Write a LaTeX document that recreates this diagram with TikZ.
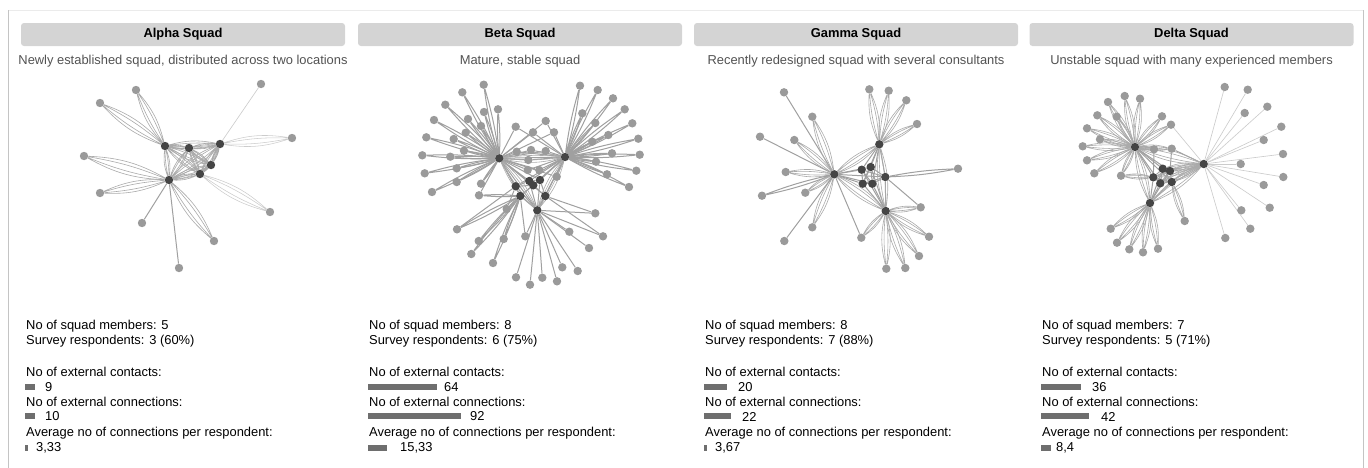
\documentclass[tikz,border=0pt]{standalone}
\usepackage{fontspec}
\setmainfont{Liberation Sans}
\definecolor{nodegray}{HTML}{9A9A9A}
\definecolor{memgray}{HTML}{454545}
\definecolor{edgegray}{HTML}{A0A0A0}
\definecolor{faintgray}{HTML}{CCCCCC}
\definecolor{lensgray}{HTML}{AAAAAA}
\definecolor{boxgray}{HTML}{D4D4D4}
\definecolor{bargray}{HTML}{6E6E6E}
\definecolor{framegray}{HTML}{C4C4C4}
\pgfdeclarelayer{bg}
\pgfsetlayers{bg,main}
\tikzset{
  ext/.style={circle,fill=nodegray,inner sep=0pt,minimum size=8.4pt},
  mem/.style={circle,fill=memgray,inner sep=0pt,minimum size=8.4pt},
  edge/.style={draw=edgegray,line width=1pt},
  faint/.style={draw=faintgray,line width=0.65pt},
  lensedge/.style={draw=lensgray,line width=0.6pt},
  flensedge/.style={draw=faintgray,line width=0.55pt},
  ttlbox/.style={fill=boxgray,rounded corners=3pt,draw=none},
  ttl/.style={font=\fontsize{12.9}{15}\selectfont\bfseries},
  sub/.style={font=\fontsize{12.9}{15}\selectfont,text=black!68},
  stat/.style={font=\fontsize{12.9}{15}\selectfont,anchor=west,inner sep=0pt},
  bar/.style={fill=bargray,draw=none}
}
% connectors between named nodes
\newcommand\lineab[2]{\draw[edge] (#1) -- (#2);}
\newcommand\faintab[2]{\draw[faint] (#1) -- (#2);}
\newcommand\dblab[2]{\draw[edge] (#1) to[bend left=4] (#2) (#1) to[bend right=4] (#2);}
\newcommand\lensab[2]{\draw[lensedge] (#1) to[bend left=6] (#2) (#1) to[bend left=13] (#2) (#1) to[bend right=6] (#2) (#1) to[bend right=13] (#2);}
\newcommand\flensab[2]{\draw[flensedge] (#1) to[bend left=6] (#2) (#1) to[bend left=13] (#2) (#1) to[bend right=6] (#2) (#1) to[bend right=13] (#2);}
\begin{document}
\begin{tikzpicture}[x=1pt,y=-1pt]
\useasboundingbox (0,0) rectangle (1368,467);
% panel frame
\draw[draw=black!8,line width=0.8pt] (8,10) -- (1363,10);
\draw[draw=framegray,line width=1pt] (8,10) -- (8,470);
\draw[draw=framegray,line width=1pt] (1363,10) -- (1363,470);

% headers
\foreach \cx/\name/\desc [count=\i] in {
  183/Alpha Squad/{Newly established squad, distributed across two locations},
  520/Beta Squad/{Mature, stable squad},
  856/Gamma Squad/{Recently redesigned squad with several consultants},
  1191.5/Delta Squad/{Unstable squad with many experienced members}} {
  \node[ttlbox,minimum width=324pt,minimum height=23pt,inner sep=0pt] (hdr\i) at (\cx,34.5) {};
  \node[ttl] (ttl\i) at (hdr\i) {\name};
  \node[sub] (sub\i) at (\cx,61) {\desc};
}

% statistics
\foreach \sx/\m/\r/\c/\cw/\cv/\k/\kw/\kv/\a/\aw/\av [count=\i] in {
  26/5/{3 (60\%)}/9/10/45/10/10/45/{3,33}/2.5/36,
  369/8/{6 (75\%)}/64/69/444/92/93/470/{15,33}/19/400,
  705/8/{7 (88\%)}/20/23/738/22/27/742/{3,67}/3/715,
  1042/7/{5 (71\%)}/36/40/1092/42/48/1101/{8,4}/10/1056} {
  \node[stat] (mem\i) at (\sx,326) {No of squad members: \m};
  \node[stat] (res\i) at (\sx,341) {Survey respondents: \r};
  \node[stat] (con\i) at (\sx,372) {No of external contacts:};
  \fill[bar] (\sx-1,383.5) rectangle ++(\cw,6);
  \node[stat] (conv\i) at (\cv,387) {\c};
  \node[stat] (cnx\i) at (\sx,401.5) {No of external connections:};
  \fill[bar] (\sx-1,413) rectangle ++(\kw,6);
  \node[stat] (cnxv\i) at (\kv,416.5) {\k};
  \node[stat] (avg\i) at (\sx,433) {Average no of connections per respondent:};
  \fill[bar] (\sx-1,444.5) rectangle ++(\aw,6);
  \node[stat] (avgv\i) at (\av,448) {\a};
}

% ================= nodes =================
% Alpha
\foreach \x/\y [count=\i] in {165/146,189/148,220/144,211/165,200/174,169/180}
  {\node[mem] (am\i) at (\x,\y) {};}
\foreach \x/\y [count=\i] in {261/84,136/90,100/103,292/138,84/156,100/193,270/212,142/223,214/241,179/268}
  {\node[ext] (ae\i) at (\x,\y) {};}
% Beta
\foreach \x/\y [count=\i] in {499.3/158.3,565/157,515.7/186.3,529.3/181,540/180,533.3/185.3,520.3/196,545.3/196,537.3/210.3}
  {\node[mem] (bm\i) at (\x,\y) {};}
\foreach \x/\y [count=\i] in {483.7/84.7,462.3/92.3,445.3/104.7,484/112,498/109.3,434/120,468/119,481/126,426.3/137.3,465.7/132.7,453.7/139,464/150.7,422.3/155.3,450.3/156.7,456.7/168.3,424.7/173.3,456.7/182,432/192,481/183.7}
  {\node[ext] (bl\i) at (\x,\y) {};}
\foreach \x/\y [count=\i] in {515.7/126.7,516.7/151.7,531/150,545.7/151,528.3/160,527.7/170,539.3/170,533/132.3,554/132.3,545.7/121,556.7/176.7}
  {\node[ext] (bc\i) at (\x,\y) {};}
\foreach \x/\y [count=\i] in {580/85.7,597.7/90,613/98.3,624.7/109.3,582.3/113.3,595.3/123,632.3/123.3,608.3/135,592.3/141.7,638.3/138.7,612/153.3,639.7/154.7,596/161.7,607/174.3,636.3/170.7,629/187}
  {\node[ext] (br\i) at (\x,\y) {};}
\foreach \x/\y [count=\i] in {479/195.3,506.7/209,457/229.3,478.7/241,471.3/254,503.7/239,493/263}
  {\node[ext] (bd\i) at (\x,\y) {};}
\foreach \x/\y [count=\i] in {525.3/236.3,516/277.3,530/284.7,542.3/277.7,557/281.3,562.3/267.3,577.7/271,589/248,569.3/231.7,603/236.3,595.3/213.3}
  {\node[ext] (bb\i) at (\x,\y) {};}
% Gamma
\foreach \x/\y [count=\i] in {834.3/174.3,879.3/144.3,861.7/169.7,870.7/167,885.3/177,862.7/183.7,872.3/183.7,885.7/211}
  {\node[mem] (gm\i) at (\x,\y) {};}
\foreach \x/\y [count=\i] in {784/92.3,812.3/116.7,760/136.7,794.3/140,785.7/172,762/195.7,805.3/192.7,812.3/227.3,784.3/241,861.3/237.7,869.3/89.3,888.7/90.7,906.3/100.3,917/124,958/168.7,920.7/207.3,929/236.7,919/256,886.3/268.7,905.3/268}
  {\node[ext] (ge\i) at (\x,\y) {};}
% Delta
\foreach \x/\y [count=\i] in {1135/147,1203.7/164,1162.7/168.7,1170/171,1153.3/177.3,1160.3/183.3,1171.7/182,1150/203}
  {\node[mem] (dm\i) at (\x,\y) {};}
\foreach \x/\y [count=\i] in {1124.7/96,1140/98.7,1108/102,1097.3/115.3,1116.7/116.7,1162/116.3,1171/124.7,1087/128.3,1100/139.3,1082.7/146.3,1087/160.3,1094.3/173.3,1121/175.7}
  {\node[ext] (dl\i) at (\x,\y) {};}
\node[ext] (dc1) at (1154,149.3) {};
\node[ext] (dc2) at (1171.7,148.7) {};
\node[ext] (dc3) at (1184.7,221) {};
\foreach \x/\y [count=\i] in {1110.7/228.7,1117/242.7,1129.3/249.3,1143/252.3,1158/248.7}
  {\node[ext] (db\i) at (\x,\y) {};}
\foreach \x/\y [count=\i] in {1224.7/87,1247.7/89.7,1267.3/106.7,1244.7/113,1281.3/126.7,1263.7/140,1283/154,1240.7/164,1283.3/177,1263.7/185,1269.7/207.7,1241.3/210.3,1250.3/228.7,1225.3/238}
  {\node[ext] (dr\i) at (\x,\y) {};}

% ================= connectors (beneath the nodes) =================
\begin{pgfonlayer}{bg}
% Alpha
\faintab{ae1}{am3}
\lensab{ae2}{am1}
\lensab{ae3}{am1}
\flensab{ae4}{am3}
\lensab{ae5}{am6}
\lensab{ae6}{am6}
\flensab{ae7}{am5}
\lineab{ae8}{am6}
\lensab{ae9}{am6}
\lineab{ae10}{am6}
\foreach \a/\b in {1/2,1/3,1/4,1/5,1/6,2/3,2/4,2/5,2/6,3/4,3/5,3/6,4/5,4/6,5/6}
  {\lensab{am\a}{am\b}}
% Beta
\foreach \i in {1,...,19} {\dblab{bl\i}{bm1}}
\foreach \i in {1,...,11} {\lineab{bc\i}{bm1}\lineab{bc\i}{bm2}}
\foreach \i in {1,...,16} {\dblab{br\i}{bm2}}
\foreach \i in {1,...,7} {\dblab{bd\i}{bm7}}
\foreach \i in {1,...,11} {\lineab{bb\i}{bm9}}
\lineab{bd1}{bm1}
\lineab{bd2}{bm3}
\lineab{bd3}{bm3}
\lineab{bb10}{bm8}
\lineab{bb11}{bm8}
\lineab{bb1}{bm7}
\foreach \a/\b in {1/2,1/3,1/4,1/5,1/6,1/7,1/8,1/9,2/3,2/4,2/5,2/6,2/7,2/8,2/9,3/4,3/6,3/7,4/5,4/6,5/6,5/8,6/7,6/8,7/9,8/9,3/9,4/9,5/9}
  {\lineab{bm\a}{bm\b}}
\lensab{bm1}{bm9}
\lensab{bm2}{bm9}
\lensab{bm1}{bm2}
% Gamma
\lineab{ge1}{gm1}
\lensab{ge2}{gm1}
\lineab{ge3}{gm1}
\lensab{ge4}{gm1}
\lensab{ge5}{gm1}
\dblab{ge6}{gm1}
\lensab{ge7}{gm1}
\lensab{ge8}{gm1}
\lineab{ge9}{gm1}
\lineab{ge10}{gm1}
\lensab{ge10}{gm8}
\foreach \i in {11,12,13,14} {\lensab{ge\i}{gm2}}
\dblab{ge15}{gm5}
\lensab{ge16}{gm8}
\lineab{ge16}{gm5}
\foreach \i in {17,18,19,20} {\lensab{ge\i}{gm8}}
\foreach \a/\b in {1/3,1/4,1/5,1/6,1/7,2/3,2/4,2/5,2/6,2/7,8/3,8/4,8/5,8/6,8/7,3/4,3/5,3/6,3/7,4/5,4/6,4/7,5/6,5/7,6/7}
  {\lineab{gm\a}{gm\b}}
\lensab{gm1}{gm2}
\lensab{gm1}{gm8}
\lensab{gm2}{gm8}
% Delta
\foreach \i in {1,...,13} {\lensab{dl\i}{dm1}}
\faintab{dl7}{dm2}
\lensab{dl13}{dm5}
\lensab{dc1}{dm1}
\lineab{dc1}{dm5}
\lensab{dc2}{dm1}
\lineab{dc2}{dm4}
\lineab{dc2}{dm2}
\lensab{dc3}{dm7}
\foreach \i in {1,...,5} {\lensab{db\i}{dm8}}
\foreach \i in {1,...,14} {\faintab{dr\i}{dm2}}
\foreach \a/\b in {1/3,1/4,1/5,1/6,1/7,8/3,8/4,8/5,8/6,8/7,3/4,3/5,3/6,3/7,4/5,4/6,4/7,5/6,5/7,6/7}
  {\lineab{dm\a}{dm\b}}
\foreach \b in {3,4,5,6,7,8} {\lensab{dm2}{dm\b}}
\lensab{dm1}{dm8}
\lensab{dm1}{dm2}
\end{pgfonlayer}
\end{tikzpicture}
\end{document}
